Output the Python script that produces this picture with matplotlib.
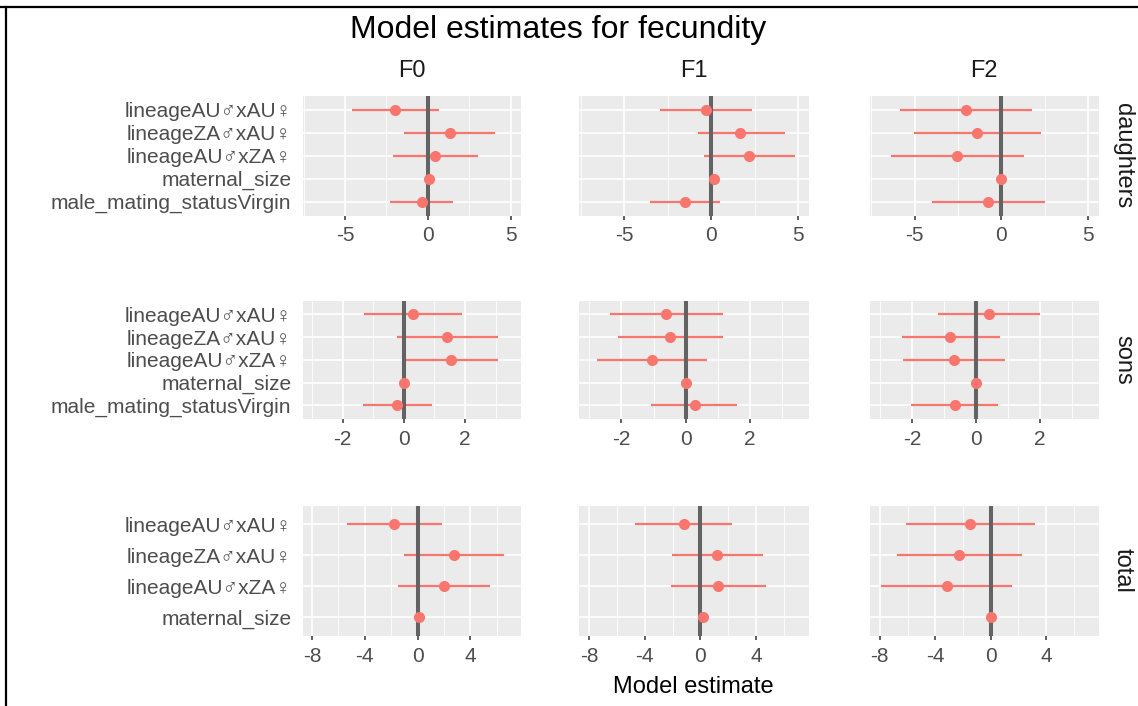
import matplotlib
matplotlib.use("Agg")
import matplotlib.pyplot as plt
from matplotlib.lines import Line2D
import numpy as np

plt.rcParams['font.family'] = ['Liberation Sans', 'DejaVu Sans']
plt.rcParams['axes.unicode_minus'] = False

# ---------------- data ----------------
terms = ["lineageAU\u2642xAU\u2640", "lineageZA\u2642xAU\u2640", "lineageAU\u2642xZA\u2640",
         "maternal_size", "male_mating_statusVirgin"]
terms_total = terms[:4]
generations = ["F0", "F1", "F2"]
responses = ["daughters", "sons", "total"]

daughters_est = {"F0": [-2.00, 1.32, 0.45, 0.07, -0.37],
                 "F1": [-0.30, 1.67, 2.20, 0.15, -1.50],
                 "F2": [-2.02, -1.40, -2.56, 0.00, -0.78]}
daughters_lo = {"F0": [-4.58, -1.45, -2.10, 0.03, -2.29],
                "F1": [-2.96, -0.78, -0.40, 0.11, -3.53],
                "F2": [-5.85, -5.04, -6.38, -0.04, -4.02]}
daughters_hi = {"F0": [0.67, 4.06, 3.05, 0.11, 1.49],
                "F1": [2.37, 4.23, 4.80, 0.19, 0.49],
                "F2": [1.75, 2.31, 1.31, 0.04, 2.49]}

sons_est = {"F0": [0.30, 1.42, 1.54, 0.01, -0.21],
            "F1": [-0.61, -0.48, -1.04, 0.02, 0.28],
            "F2": [0.40, -0.80, -0.70, 0.00, -0.67]}
sons_lo = {"F0": [-1.31, -0.23, -0.01, -0.02, -1.34],
           "F1": [-2.35, -2.11, -2.75, -0.01, -1.08],
           "F2": [-1.20, -2.32, -2.29, -0.02, -2.02]}
sons_hi = {"F0": [1.91, 3.08, 3.08, 0.04, 0.93],
           "F1": [1.15, 1.15, 0.65, 0.05, 1.60],
           "F2": [1.99, 0.75, 0.91, 0.02, 0.67]}

total_est = {"F0": [-1.75, 2.75, 2.02, 0.10],
             "F1": [-1.17, 1.22, 1.30, 0.21],
             "F2": [-1.46, -2.30, -3.18, 0.00]}
total_lo = {"F0": [-5.33, -1.02, -1.48, 0.05],
            "F1": [-4.69, -2.04, -2.12, 0.16],
            "F2": [-6.09, -6.78, -7.89, -0.05]}
total_hi = {"F0": [1.83, 6.55, 5.50, 0.15],
            "F1": [2.25, 4.53, 4.72, 0.26],
            "F2": [3.20, 2.25, 1.56, 0.05]}

row_terms = {"daughters": terms, "sons": terms, "total": terms_total}
row_est = {"daughters": daughters_est, "sons": sons_est, "total": total_est}
row_lo = {"daughters": daughters_lo, "sons": sons_lo, "total": total_lo}
row_hi = {"daughters": daughters_hi, "sons": sons_hi, "total": total_hi}

# ---------------- layout / style ----------------
W, H = 1138, 706
row_xlim = {"daughters": (-7.57, 5.60), "sons": (-3.31, 3.82), "total": (-8.71, 7.80)}
row_major = {"daughters": [-5, 0, 5], "sons": [-2, 0, 2], "total": [-8, -4, 0, 4]}
row_minor = {"daughters": [-7.5, -2.5, 2.5], "sons": [-3, -1, 1, 3], "total": [-6, -2, 2, 6]}
col_px = [(302.5, 520.7), (579.3, 808.7), (870.0, 1098.5)]
row_px = [(96.0, 215.5), (300.7, 419.0), (505.7, 636.0)]

RED = "#F8766D"
PANEL = "#EBEBEB"
VLINE = "#636363"
AXTXT = "#4D4D4D"

fig = plt.figure(figsize=(W / 100, H / 100), dpi=100)
fig.patch.set_facecolor("white")


def rect(x0, x1, y0, y1):
    return [x0 / W, 1 - y1 / H, (x1 - x0) / W, (y1 - y0) / H]


for r, resp in enumerate(responses):
    labels = row_terms[resp]
    n = len(labels)
    ypos = np.arange(n, 0, -1)
    for c, gen in enumerate(generations):
        x0, x1 = col_px[c]
        y0, y1 = row_px[r]
        ax = fig.add_axes(rect(x0, x1, y0, y1))
        ax.set_facecolor(PANEL)
        for s in ax.spines.values():
            s.set_visible(False)
        ax.set_axisbelow(True)
        ax.hlines(ypos, row_lo[resp][gen], row_hi[resp][gen], color=RED, lw=1.6, zorder=2)
        ax.axvline(0, color=VLINE, lw=2.9, zorder=3)
        ax.plot(row_est[resp][gen], ypos, "o", color=RED, ms=8, mec="none", zorder=4)
        ax.set_xlim(*row_xlim[resp])
        ax.set_ylim(0.4, n + 0.6)
        ax.set_xticks(row_major[resp])
        ax.set_xticklabels([str(v) for v in row_major[resp]])
        ax.set_xticks(row_minor[resp], minor=True)
        ax.set_yticks(ypos)
        ax.set_yticklabels(labels if c == 0 else [])
        ax.grid(which="major", color="white", lw=1.2)
        ax.grid(which="minor", axis="x", color="white", lw=0.6)
        ax.tick_params(axis="y", length=0, pad=8, labelsize=15, labelcolor=AXTXT)
        ax.tick_params(axis="x", which="major", length=3.2, width=1.1, color="#333333",
                       pad=4.5, labelsize=15, labelcolor=AXTXT)
        ax.tick_params(axis="x", which="minor", length=0)
        if r == 0:
            fig.text((x0 + x1) / 2 / W, 1 - 71 / H, gen, ha="center", va="center",
                     fontsize=17, color="#1A1A1A")
    yc = (row_px[r][0] + row_px[r][1]) / 2
    fig.text(1123 / W, 1 - yc / H, resp, rotation=-90, ha="center", va="center",
             fontsize=17, color="#1A1A1A")

fig.text(558 / W, 1 - 30 / H, "Model estimates for fecundity", ha="center", va="center",
         fontsize=23, color="black")
fig.text(693 / W, 1 - 687 / H, "Model estimate", ha="center", va="center",
         fontsize=17, color="black")

# frame lines of the screenshot
fig.add_artist(Line2D([0, 1], [1 - 6.5 / H, 1 - 6.5 / H], color="black", lw=1.6))
fig.add_artist(Line2D([6.0 / W, 6.0 / W], [0, 1 - 6.5 / H], color="black", lw=1.6))

fig.savefig("out.png", dpi=100)
